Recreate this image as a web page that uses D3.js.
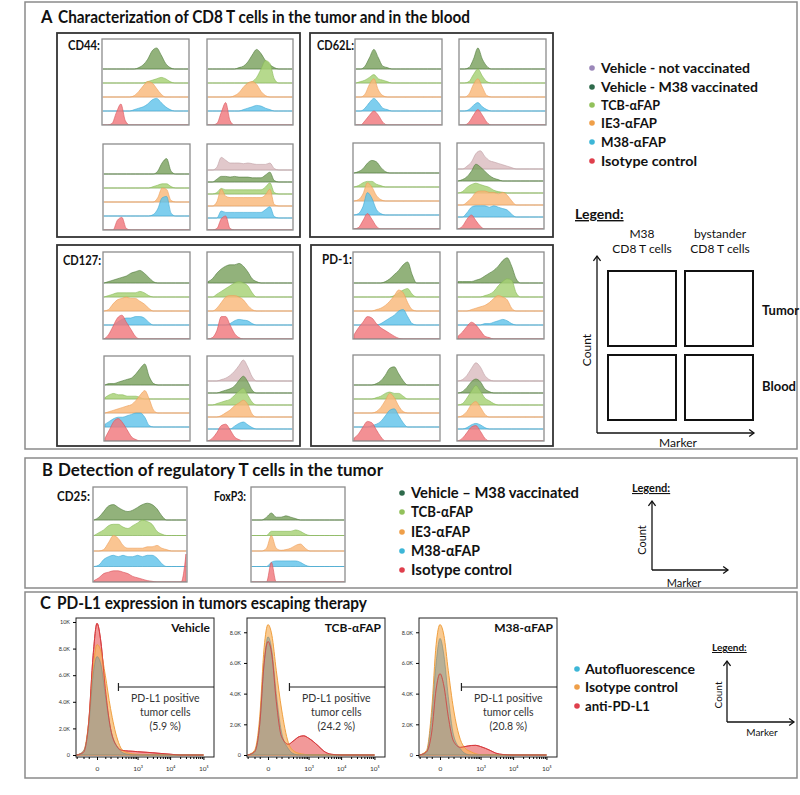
<!DOCTYPE html>
<html>
<head>
<meta charset="utf-8">
<script src="https://cdn.jsdelivr.net/npm/d3@7"></script>
<style>
  body { margin: 0; background: #fff }
  svg { display: block }
  text { font-family: Lato, 'DejaVu Sans', sans-serif; fill: #111 }
</style>
</head>
<body>
<svg id="fig" width="800" height="795"></svg>
<script>
// groups (legend order) and colours
const groups = ['Vehicle - not vaccinated', 'Vehicle - M38 vaccinated', 'TCB-αFAP', 'IE3-αFAP', 'M38-αFAP', 'Isotype control']
const groupsB = ['Vehicle – M38 vaccinated', 'TCB-αFAP', 'IE3-αFAP', 'M38-αFAP', 'Isotype control']
const markersA = ['CD44:', 'CD62L:', 'CD127:', 'PD-1:']
const markersB = ['CD25:', 'FoxP3:']
const fills = ['#dbbcc0', '#7aa15e', '#a6d174', '#f9b87a', '#62c3ea', '#f0777c']
const strokes = ['#bd9ea3', '#4f7a3a', '#86b856', '#ec9e58', '#3ea9d4', '#d9545a']
const dots = ['#9b87b9', '#2e6a4b', '#92c15b', '#ef9f49', '#3db6d7', '#df3f4c']

// histogram rows (20 bins, marker intensity low -> high), one row per group
const cd44TumorM38 = [
  [0, 0, 0, 0, 0, 0, 0, 0, 1, 3, 7, 13, 15, 10, 4, 1, 0, 0, 0, 0],
  [0, 0, 0, 0, 0, 0, 0, 0, 0, 0, 1, 2, 3, 4, 3, 1, 0, 0, 0, 0],
  [0, 0, 0, 0, 0, 0, 0, 1, 4, 8, 11, 10, 6, 2, 0, 0, 0, 0, 0, 0],
  [0, 0, 0, 0, 0, 0, 0, 1, 2, 3, 5, 8, 9, 6, 3, 1, 0, 0, 0, 0],
  [0, 0, 1, 9, 15, 3, 0, 0, 0, 0, 0, 0, 0, 0, 0, 0, 0, 0, 0, 0]
]
const cd44TumorBy = [
  [0, 0, 0, 0, 0, 0, 0, 1, 2, 5, 10, 14, 11, 6, 3, 1, 0, 0, 0, 0],
  [0, 0, 0, 0, 0, 0, 0, 0, 0, 0, 1, 4, 10, 16, 14, 3, 0, 0, 0, 0],
  [0, 0, 0, 0, 0, 0, 1, 3, 7, 10, 11, 9, 4, 1, 0, 0, 0, 0, 0, 0],
  [0, 0, 0, 0, 0, 0, 0, 0, 1, 2, 3, 4, 3.5, 2, 1, 0, 0, 0, 0, 0],
  [0, 0, 1, 9, 16, 3, 0, 0, 0, 0, 0, 0, 0, 0, 0, 0, 0, 0, 0, 0]
]
const cd44BloodM38 = [
  [0, 0, 0, 0, 0, 0, 0, 0, 0, 0, 0, 0, 2, 8, 11, 2, 0, 0, 0, 0],
  [0, 0, 0, 0, 0, 0, 0, 0, 0, 0, 0, 1, 2, 3, 3, 1, 0, 0, 0, 0],
  [0, 0, 0, 0, 0, 0, 0, 0, 0, 0, 0, 0, 3, 10, 9, 1, 0, 0, 0, 0],
  [0, 0, 0, 0, 0, 0, 0, 0, 0, 0, 0, 1, 5, 13, 14, 2, 0, 0, 0, 0],
  [0, 0, 0, 7, 9, 1, 0, 0, 0, 0, 0, 0, 0, 0, 0, 0, 0, 0, 0, 0]
]
const cd44BloodBy = [
  [0, 0, 2, 9, 7, 5, 5, 5, 4.5, 5, 4.5, 4, 4, 4, 5, 1, 0, 0, 0, 0],
  [0, 0, 2, 4, 4, 3.5, 4, 3.5, 3.5, 3.5, 3, 3, 3, 5, 7, 1, 0, 0, 0, 0],
  [0, 0, 1, 4, 3, 3, 3, 3, 3, 3, 3, 3, 3, 5, 8, 1, 0, 0, 0, 0],
  [0, 0, 3, 12, 7, 6, 6, 6, 6, 6, 6, 6, 6, 8, 12, 1, 0, 0, 0, 0],
  [0, 0, 0, 5, 4, 4, 4, 4, 4, 4, 4, 4, 4, 6, 8, 1, 0, 0, 0, 0],
  [0, 0, 1, 8, 10, 1, 0, 0, 0, 0, 0, 0, 0, 0, 0, 0, 0, 0, 0, 0]
]
const cd62lTumorM38 = [
  [0, 0, 2, 8, 14, 8, 2, 1, 0, 0, 0, 0, 0, 0, 0, 0, 0, 0, 0, 0],
  [0, 1, 2, 4, 6, 3, 2, 1, 0, 0, 0, 0, 0, 0, 0, 0, 0, 0, 0, 0],
  [0, 0, 2, 9, 13, 5, 1, 0, 0, 0, 0, 0, 0, 0, 0, 0, 0, 0, 0, 0],
  [0, 0, 2, 6, 9, 6, 2, 1, 0, 0, 0, 0, 0, 0, 0, 0, 0, 0, 0, 0],
  [0, 0, 3, 7, 10, 7, 2, 0, 0, 0, 0, 0, 0, 0, 0, 0, 0, 0, 0, 0]
]
const cd62lTumorBy = [
  [0, 0, 1, 7, 15, 7, 2, 0, 0, 0, 0, 0, 0, 0, 0, 0, 0, 0, 0, 0],
  [0, 0, 1, 6, 10, 5, 1, 0, 0, 0, 0, 0, 0, 0, 0, 0, 0, 0, 0, 0],
  [0, 0, 2, 9, 13, 7, 1, 0, 0, 0, 0, 0, 0, 0, 0, 0, 0, 0, 0, 0],
  [0, 0, 1, 4, 6, 3, 1, 0, 0, 0, 0, 0, 0, 0, 0, 0, 0, 0, 0, 0],
  [0, 0, 2, 7, 11, 7, 2, 0, 0, 0, 0, 0, 0, 0, 0, 0, 0, 0, 0, 0]
]
const cd62lBloodM38 = [
  [0, 1, 3, 7, 9, 8, 4, 1, 0, 0, 0, 0, 0, 0, 0, 0, 0, 0, 0, 0],
  [0, 1, 3, 4, 4, 2, 1, 0, 0, 0, 0, 0, 0, 0, 0, 0, 0, 0, 0, 0],
  [0, 1, 5, 13, 10, 4, 1, 0, 0, 0, 0, 0, 0, 0, 0, 0, 0, 0, 0, 0],
  [0, 1, 6, 16, 12, 4, 1, 0, 0, 0, 0, 0, 0, 0, 0, 0, 0, 0, 0, 0],
  [0, 1, 6, 11, 7, 2, 0, 0, 0, 0, 0, 0, 0, 0, 0, 0, 0, 0, 0, 0]
]
const cd62lBloodBy = [
  [0, 0, 2, 5, 11, 13, 9, 6, 5, 4, 3, 2, 1, 0, 0, 0, 0, 0, 0, 0],
  [0, 1, 3, 7, 12, 10, 7, 4, 2, 1, 0, 0, 0, 0, 0, 0, 0, 0, 0, 0],
  [0, 1, 4, 6, 7, 6, 5, 4, 2, 1, 0.5, 0, 0, 0, 0, 0, 0, 0, 0, 0],
  [0, 0, 2, 5, 9, 10, 10, 9, 9, 8, 9, 7, 3, 0, 0, 0, 0, 0, 0, 0],
  [0, 0, 3, 7, 8, 8, 8, 7, 8, 7, 6, 5, 2, 0, 0, 0, 0, 0, 0, 0],
  [0, 2, 7, 10, 6, 2, 0, 0, 0, 0, 0, 0, 0, 0, 0, 0, 0, 0, 0, 0]
]
const cd127TumorM38 = [
  [0, 1, 2, 3, 4, 5, 7, 8, 9, 7, 4, 1, 0, 0, 0, 0, 0, 0, 0, 0],
  [0, 1, 2, 3, 3, 3, 3, 3, 4, 3, 1, 0, 0, 0, 0, 0, 0, 0, 0, 0],
  [0, 1, 5, 8, 9, 10, 9, 9, 7, 5, 2, 0, 0, 0, 0, 0, 0, 0, 0, 0],
  [0, 0, 0, 2, 4, 5, 5, 6, 6, 5, 2, 0, 0, 0, 0, 0, 0, 0, 0, 0],
  [0, 3, 9, 15, 17, 12, 7, 2, 0, 0, 0, 0, 0, 0, 0, 0, 0, 0, 0, 0]
]
const cd127TumorBy = [
  [1, 3, 7, 10, 12, 13, 13, 14, 12, 8, 3, 1, 0, 0, 0, 0, 0, 0, 0, 0],
  [0, 0, 2, 4, 6, 8, 10, 11, 10, 8, 3, 0, 0, 0, 0, 0, 0, 0, 0, 0],
  [0, 0, 2, 6, 10, 11, 11, 10, 8, 4, 1, 0, 0, 0, 0, 0, 0, 0, 0, 0],
  [0, 0, 0, 0, 0, 1, 3, 4, 3.5, 3, 1, 0, 0, 0, 0, 0, 0, 0, 0, 0],
  [0, 1, 6, 16, 16, 10, 4, 1, 0, 0, 0, 0, 0, 0, 0, 0, 0, 0, 0, 0]
]
const cd127BloodM38 = [
  [0, 1, 1, 2, 3, 4, 5, 8, 12, 15, 6, 1, 0, 0, 0, 0, 0, 0, 0, 0],
  [1, 3, 4, 3, 3, 2, 2, 2, 1, 0, 0, 0, 0, 0, 0, 0, 0, 0, 0, 0],
  [0, 1, 2, 3, 4, 5, 6, 9, 13, 16, 10, 2, 0, 0, 0, 0, 0, 0, 0, 0],
  [2, 4, 6, 7, 7, 8, 9, 10, 10, 7, 1, 0, 0, 0, 0, 0, 0, 0, 0, 0],
  [2, 8, 14, 16, 13, 8, 3, 1, 0, 0, 0, 0, 0, 0, 0, 0, 0, 0, 0, 0]
]
const cd127BloodBy = [
  [0, 0, 0, 1, 2, 4, 7, 11, 15, 10, 3, 0, 0, 0, 0, 0, 0, 0, 0, 0],
  [0, 0, 0, 1, 2, 3, 5, 9, 12, 8, 2, 0, 0, 0, 0, 0, 0, 0, 0, 0],
  [0, 0, 1, 2, 3, 4, 7, 10, 12, 7, 2, 0, 0, 0, 0, 0, 0, 0, 0, 0],
  [0, 0, 0, 1, 3, 5, 8, 10, 12, 9, 2, 0, 0, 0, 0, 0, 0, 0, 0, 0],
  [0, 0, 0, 0, 0, 0, 2, 4, 5, 3, 1, 0, 0, 0, 0, 0, 0, 0, 0, 0],
  [0, 2, 6, 11, 12, 8, 3, 1, 0, 0, 0, 0, 0, 0, 0, 0, 0, 0, 0, 0]
]
const pd1TumorM38 = [
  [0, 0, 0, 0, 0, 0, 0, 1, 3, 6, 9, 13, 15, 6, 0, 0, 0, 0, 0, 0],
  [0, 0, 0, 0, 0, 0, 0, 0, 0, 1, 3, 5, 6, 2, 0, 0, 0, 0, 0, 0],
  [0, 0, 0, 0, 0, 1, 2, 4, 7, 11, 15, 13, 6, 1, 0, 0, 0, 0, 0, 0],
  [0, 0, 0, 0, 0, 0, 1, 3, 5, 7, 10, 11, 6, 1, 0, 0, 0, 0, 0, 0],
  [3, 8, 12, 16, 15, 11, 8, 6, 4, 2, 0.5, 0, 0, 0, 0, 0, 0, 0, 0, 0]
]
const pd1TumorBy = [
  [1, 1, 1, 1, 2, 3, 5, 7, 9, 12, 16, 18, 12, 3, 0, 0, 0, 0, 0, 0],
  [0, 0, 0, 0, 0, 0, 1, 2, 4, 8, 11, 13, 12, 3, 0, 0, 0, 0, 0, 0],
  [0, 0, 0, 1, 2, 3, 4, 6, 9, 11, 10, 8, 2, 0, 0, 0, 0, 0, 0, 0],
  [0, 0, 0, 0, 0, 0, 1, 1, 2, 3, 4, 3, 1, 0, 0, 0, 0, 0, 0, 0],
  [2, 5, 9, 12, 10, 6, 2, 1, 0, 0, 0, 0, 0, 0, 0, 0, 0, 0, 0, 0]
]
const pd1BloodM38 = [
  [0, 0, 0, 0, 0, 1, 3, 7, 12, 13, 8, 3, 0, 0, 0, 0, 0, 0, 0, 0],
  [0, 0, 0, 0, 0, 1, 2, 4, 5, 4, 4, 2, 0, 0, 0, 0, 0, 0, 0, 0],
  [0, 0, 0, 0, 0, 1, 4, 9, 14, 11, 5, 1, 0, 0, 0, 0, 0, 0, 0, 0],
  [0, 0, 0, 0, 1, 2, 4, 8, 12, 13, 8, 3, 0, 0, 0, 0, 0, 0, 0, 0],
  [2, 5, 10, 14, 13, 8, 3, 0, 0, 0, 0, 0, 0, 0, 0, 0, 0, 0, 0, 0]
]
const pd1BloodBy = [
  [0, 1, 4, 9, 13, 10, 4, 1, 0, 0, 0, 0, 0, 0, 0, 0, 0, 0, 0, 0],
  [0, 1, 4, 8, 10, 8, 3, 1, 0, 0, 0, 0, 0, 0, 0, 0, 0, 0, 0, 0],
  [0, 1, 5, 10, 14, 10, 5, 3, 1, 0, 0, 0, 0, 0, 0, 0, 0, 0, 0, 0],
  [0, 1, 4, 9, 11, 7, 2, 0, 0, 0, 0, 0, 0, 0, 0, 0, 0, 0, 0, 0],
  [0, 0, 1, 3, 4, 3, 1, 0, 0, 0, 0, 0, 0, 0, 0, 0, 0, 0, 0, 0],
  [0, 2, 6, 10, 11, 7, 2, 0, 0, 0, 0, 0, 0, 0, 0, 0, 0, 0, 0, 0]
]
// panel B (tumor Treg markers)
const cd25Tumor = [
  [0, 2, 6, 10, 11, 9, 7, 6, 7, 9, 11, 12, 11, 8, 3, 0, 0, 0, 0, 0],
  [0, 2, 4, 7, 8, 8, 6, 5, 7, 9, 11, 10, 8, 3, 1, 0, 0, 0, 0, 0],
  [0, 0, 1, 6, 11, 9, 4, 2, 2, 2, 2, 3, 3, 4, 2, 1, 0, 0, 0, 0],
  [0, 1, 5, 7, 8, 7, 8, 7, 7, 8, 7, 8, 8, 6, 2, 0, 0, 0, 0, 0],
  [1, 3, 6, 7, 8, 8, 7, 6, 4, 3, 2, 1, 0.5, 0, 0, 0, 0, 0, 0, 20]
]
const foxp3Tumor = [
  [0, 0, 0, 2, 5, 2, 2, 3, 2, 1, 0, 0, 0, 0, 0, 0, 0, 0, 0, 0],
  [0, 0, 0, 0, 3, 3, 3, 3, 3, 4, 3, 1, 0, 0, 0, 0, 0, 0, 0, 0],
  [0, 0, 0, 2, 11, 2, 0.5, 1, 2, 4, 5, 2, 0, 0, 0, 0, 0, 0, 0, 0],
  [0, 0, 0, 0, 3, 4, 4, 4, 4, 4, 3, 1, 0, 0, 0, 0, 0, 0, 0, 0],
  [0, 0, 0, 0, 14, 0, 0, 0, 0, 0, 0, 0, 0, 0, 0, 0, 0, 0, 0, 0]
]

// panel C: PD-L1 histograms (counts at fluorescence values)
const seriesC = ['Autofluorescence', 'Isotype control', 'anti-PD-L1']
const treatmentsC = ['Vehicle', 'TCB-αFAP', 'M38-αFAP']
const positivePct = ['(5.9 %)', '(24.2 %)', '(20.8 %)']
const cX = [-200, -100, -50, -20, 0, 20, 50, 100, 200, 300, 500, 700, 1000, 2000, 3000, 5000, 10000, 20000, 100000]
const vehAuto = [0, 300, 2200, 6000, 7400, 6800, 4500, 2000, 600, 200, 50, 0, 0, 0, 0, 0, 0, 0, 0]
const vehIso = [0, 300, 2500, 6500, 8300, 7800, 6000, 3500, 1200, 400, 150, 80, 50, 0, 0, 0, 0, 0, 0]
const vehPdl1 = [0, 200, 2500, 7500, 9900, 8500, 5000, 2000, 600, 350, 300, 280, 250, 200, 170, 120, 60, 0, 0]
const tcbAuto = [0, 200, 2000, 6000, 7700, 6800, 4000, 1500, 400, 100, 0, 0, 0, 0, 0, 0, 0, 0, 0]
const tcbIso = [0, 300, 2500, 7000, 8500, 7800, 5500, 3000, 800, 300, 100, 50, 0, 0, 0, 0, 0, 0, 0]
const tcbPdl1 = [0, 200, 2000, 6000, 7400, 6500, 3500, 1200, 700, 900, 1200, 1250, 1100, 600, 250, 50, 0, 0, 0]
const m38Auto = [0, 200, 2500, 6000, 7600, 6500, 3800, 1300, 400, 100, 0, 0, 0, 0, 0, 0, 0, 0, 0]
const m38Iso = [0, 300, 3000, 7200, 8500, 7800, 5500, 3000, 1000, 450, 200, 80, 20, 0, 0, 0, 0, 0, 0]
const m38Pdl1 = [0, 200, 1500, 4300, 5300, 4500, 2500, 900, 500, 550, 620, 630, 550, 300, 120, 30, 0, 0, 0]
const yMaxC = [10300, 8930, 8930]
const yTicksC = [[0, 2000, 4000, 6000, 8000, 10000], [0, 2000, 4000, 6000, 8000], [0, 2000, 4000, 6000, 8000]]
const xMajorC = [0, 1000, 10000, 100000]
const xMinorC = [-200, -100, -50, 50, 100, 200, 300, 400, 500, 600, 700, 800, 900, 2000, 3000, 4000, 5000, 6000, 7000, 8000, 9000, 20000, 30000, 40000, 50000, 60000, 70000, 80000, 90000]
const gateStart = 220
const cFill = ['#8c9f9a', '#f6b462', '#ee7777']
const cStroke = ['#7d8d80', '#f0a040', '#d6393c']
const cDot = ['#3db6d7', '#ef9f49', '#df3f4c']

const svg = d3.select('#fig')

function txt(g, x, y, s, size, opts = {}) {
  const t = g.append('text').attr('x', x).attr('y', y).text(s)
    .style('font-size', `${size}px`)
    .style('font-weight', opts.bold ? 700 : 400)
    .attr('text-anchor', opts.anchor || 'start')
  if (opts.width) t.attr('textLength', opts.width).attr('lengthAdjust', 'spacingAndGlyphs')
  if (opts.underline) t.style('text-decoration', 'underline')
  if (opts.fill) t.style('fill', opts.fill)
  return t
}

let clipN = 0
// stacked histogram box: rows drawn top to bottom, last row sits on the box floor
function histBox(g, box, rows, groupIdx, step) {
  const [bx, by, bw, bh] = box
  const n = rows.length
  const x = d3.scaleLinear().domain([0, rows[0].length - 1]).range([bx + 1, bx + bw - 1])
  const h = d3.scaleLinear().domain([0, 10]).range([0, 14])
  const id = `clip${clipN++}`
  g.append('clipPath').attr('id', id).append('rect').attr('x', bx).attr('y', by).attr('width', bw).attr('height', bh)
  const inner = g.append('g').attr('clip-path', `url(#${id})`)
  const base = i => by + bh - (n - 1 - i) * step
  rows.forEach((r, i) => {
    inner.append('line').attr('x1', bx).attr('x2', bx + bw).attr('y1', base(i)).attr('y2', base(i))
      .attr('stroke', '#d6d6d6').attr('stroke-width', 1)
  })
  rows.forEach((r, i) => {
    const area = d3.area()
      .x((d, j) => x(j))
      .y0(base(i))
      .y1(d => base(i) - h(d))
      .curve(d3.curveMonotoneX)
    inner.append('path').datum(r).attr('d', area)
      .attr('fill', fills[groupIdx[i]]).attr('fill-opacity', 0.82)
      .attr('stroke', strokes[groupIdx[i]]).attr('stroke-width', 0.6)
  })
  g.append('rect').attr('x', bx).attr('y', by).attr('width', bw).attr('height', bh)
    .attr('fill', 'none').attr('stroke', '#8c8c8c').attr('stroke-width', 1.3)
}

function arrow(g, x1, y1, x2, y2) {
  g.append('line').attr('x1', x1).attr('y1', y1).attr('x2', x2).attr('y2', y2)
    .attr('stroke', '#111').attr('stroke-width', 1.3)
  const a = Math.atan2(y2 - y1, x2 - x1)
  const p = [a + 2.5, a - 2.5].map(t => [x2 + 6 * Math.cos(t), y2 + 6 * Math.sin(t)])
  g.append('path').attr('d', `M${p[0]}L${x2},${y2}L${p[1]}`).attr('fill', 'none')
    .attr('stroke', '#111').attr('stroke-width', 1.3)
}

// panel frames
const frames = [[25, 2, 772, 447], [25, 458, 772, 130], [25, 592, 772, 186]]
frames.forEach(f => svg.append('rect').attr('x', f[0]).attr('y', f[1]).attr('width', f[2]).attr('height', f[3])
  .attr('fill', 'none').attr('stroke', '#8a8a8a').attr('stroke-width', 1.5))

// ---------- panel A ----------
const gA = svg.append('g')
txt(gA, 41, 23, 'A', 16.5, { bold: true })
txt(gA, 58, 23, 'Characterization of CD8 T cells in the tumor and in the blood', 16.5, { bold: true, width: 412 })

const five = [1, 2, 3, 4, 5]
const six = [0, 1, 2, 3, 4, 5]
const blocksA = [
  { frame: [57, 33, 243, 204], lab: [68, 50, 32], boxes: [[102, 39, 87, 86], [207, 39, 86, 86], [103, 144, 87, 86], [207, 144, 86, 86]], data: [cd44TumorM38, cd44TumorBy, cd44BloodM38, cd44BloodBy] },
  { frame: [310, 33, 243, 204], lab: [317, 50, 37], boxes: [[355, 39, 87, 86], [459, 39, 87, 86], [353, 143, 87, 86], [457, 143, 87, 86]], data: [cd62lTumorM38, cd62lTumorBy, cd62lBloodM38, cd62lBloodBy] },
  { frame: [57, 245, 243, 201], lab: [63, 265, 38], boxes: [[103, 252, 87, 87], [207, 252, 86, 87], [104, 356, 86, 85], [207, 356, 86, 85]], data: [cd127TumorM38, cd127TumorBy, cd127BloodM38, cd127BloodBy] },
  { frame: [311, 245, 242, 201], lab: [322, 264, 30], boxes: [[353, 252, 87, 87], [457, 252, 87, 87], [353, 355, 87, 86], [457, 355, 87, 86]], data: [pd1TumorM38, pd1TumorBy, pd1BloodM38, pd1BloodBy] }
]
blocksA.forEach((b, k) => {
  gA.append('rect').attr('x', b.frame[0]).attr('y', b.frame[1]).attr('width', b.frame[2]).attr('height', b.frame[3])
    .attr('fill', 'none').attr('stroke', '#333').attr('stroke-width', 1.8)
  txt(gA, b.lab[0], b.lab[1], markersA[k], 12.5, { bold: true, width: b.lab[2] })
  b.boxes.forEach((box, j) => {
    const rows = b.data[j]
    histBox(gA, box, rows, rows.length === 6 ? six : five, rows.length === 6 ? 12 : 14)
  })
})

// legend A
const legA = [68, 87, 105, 123, 142, 161]
const legAW = [149, 157, 59, 56, 65, 96]
groups.forEach((s, i) => {
  gA.append('circle').attr('cx', 592).attr('cy', legA[i]).attr('r', 2.8).attr('fill', dots[i])
  txt(gA, 601, legA[i] + 5, s, 14, { bold: true, width: legAW[i] })
})
txt(gA, 575, 219, 'Legend:', 14, { bold: true, underline: true })
txt(gA, 642, 238, 'M38', 12, { anchor: 'middle' })
txt(gA, 642, 253, 'CD8 T cells', 12, { anchor: 'middle' })
txt(gA, 720, 238, 'bystander', 12, { anchor: 'middle' })
txt(gA, 720, 253, 'CD8 T cells', 12, { anchor: 'middle' })
const schemeA = [[608, 271, 68, 75], [685, 271, 68, 75], [608, 355, 68, 65], [685, 355, 68, 65]]
schemeA.forEach(r => gA.append('rect').attr('x', r[0]).attr('y', r[1]).attr('width', r[2]).attr('height', r[3])
  .attr('fill', 'none').attr('stroke', '#111').attr('stroke-width', 2))
arrow(gA, 597, 433, 597, 256)
arrow(gA, 597, 433, 754, 433)
txt(gA, 0, 0, 'Count', 12, { anchor: 'middle' }).attr('transform', 'translate(591,350) rotate(-90)')
txt(gA, 678, 447, 'Marker', 12, { anchor: 'middle' })
txt(gA, 762, 315, 'Tumor', 13, { bold: true })
txt(gA, 762, 391, 'Blood', 13, { bold: true })

// ---------- panel B ----------
const gB = svg.append('g')
txt(gB, 42, 476, 'B', 16.5, { bold: true })
txt(gB, 58, 476, 'Detection of regulatory T cells in the tumor', 16.5, { bold: true, width: 325 })
txt(gB, 57, 501, markersB[0], 12.5, { bold: true, width: 33 })
txt(gB, 214, 501, markersB[1], 12.5, { bold: true, width: 32 })
histBox(gB, [93, 487, 94, 95], cd25Tumor, five, 15.5)
histBox(gB, [251, 487, 94, 95], foxp3Tumor, five, 15.5)
const legB = [493, 512, 532, 551, 570]
const legBW = [168, 62, 59, 69, 101]
groupsB.forEach((s, i) => {
  gB.append('circle').attr('cx', 402).attr('cy', legB[i]).attr('r', 2.8).attr('fill', dots[i + 1])
  txt(gB, 411, legB[i] + 5, s, 14.5, { bold: true, width: legBW[i] })
})
txt(gB, 632, 492, 'Legend:', 11, { bold: true, underline: true })
arrow(gB, 652, 570, 652, 501)
arrow(gB, 652, 570, 728, 570)
txt(gB, 0, 0, 'Count', 11, { anchor: 'middle' }).attr('transform', 'translate(646,540) rotate(-90)')
txt(gB, 684, 587, 'Marker', 11, { anchor: 'middle' })

// ---------- panel C ----------
const gC = svg.append('g')
txt(gC, 40, 609, 'C', 16.5, { bold: true })
txt(gC, 57, 609, 'PD-L1 expression in tumors escaping therapy', 16.5, { bold: true, width: 310 })
const plotX = [76, 247, 419]
const dataC = [[vehAuto, vehIso, vehPdl1], [tcbAuto, tcbIso, tcbPdl1], [m38Auto, m38Iso, m38Pdl1]]
const drawOrder = [2, 1, 0]
const fmtK = v => v === 0 ? '0' : v >= 10000 ? `${v / 1000}K` : `${(v / 1000).toFixed(1)}K`
const sup = { 0: '0', 1000: '10³', 10000: '10⁴', 100000: '10⁵' }
treatmentsC.forEach((name, k) => {
  const x0 = plotX[k]
  const w = 138
  const top = 618
  const bottom = 757
  const x = d3.scaleSymlog().constant(65).domain([-212, 207700]).range([x0, x0 + w])
  const y = d3.scaleLinear().domain([0, yMaxC[k]]).range([755, top])
  const id = `clipC${k}`
  gC.append('clipPath').attr('id', id).append('rect').attr('x', x0).attr('y', top).attr('width', w).attr('height', bottom - top)
  const inner = gC.append('g').attr('clip-path', `url(#${id})`)
  drawOrder.forEach(s => {
    const area = d3.area().x((d, j) => x(cX[j])).y0(y(0)).y1(d => y(d)).curve(d3.curveMonotoneX)
    inner.append('path').datum(dataC[k][s]).attr('d', area)
      .attr('fill', cFill[s]).attr('fill-opacity', s === 0 ? 0.6 : s === 1 ? 0.7 : 0.75)
      .attr('stroke', cStroke[s]).attr('stroke-width', s === 0 ? 0.6 : 1)
  })
  // red outline stays visible on top
  inner.append('path').datum(dataC[k][2])
    .attr('d', d3.line().x((d, j) => x(cX[j])).y(d => y(d)).curve(d3.curveMonotoneX))
    .attr('fill', 'none').attr('stroke', '#d6393c').attr('stroke-width', 0.9).attr('stroke-opacity', 0.8)
  gC.append('rect').attr('x', x0).attr('y', top).attr('width', w).attr('height', bottom - top)
    .attr('fill', 'none').attr('stroke', '#222').attr('stroke-width', 1)
  // axes
  const ya = gC.append('g').attr('transform', `translate(${x0},0)`)
    .call(d3.axisLeft(y).tickValues(yTicksC[k]).tickFormat(fmtK).tickSize(3).tickPadding(3))
  ya.select('.domain').remove()
  ya.selectAll('text').style('font-size', '5.5px').style('fill', '#333')
  const xa = gC.append('g').attr('transform', `translate(0,${bottom})`)
    .call(d3.axisBottom(x).tickValues(xMajorC).tickFormat(v => sup[v]).tickSize(3).tickPadding(6))
  xa.select('.domain').remove()
  xa.selectAll('text').style('font-size', '6.5px').style('fill', '#333')
  gC.append('g').attr('transform', `translate(0,${bottom})`)
    .call(d3.axisBottom(x).tickValues(xMinorC).tickFormat('').tickSize(2))
    .select('.domain').remove()
  // gate
  gC.append('line').attr('x1', x(gateStart)).attr('x2', x0 + w).attr('y1', 687).attr('y2', 687)
    .attr('stroke', '#222').attr('stroke-width', 1.2)
  gC.append('line').attr('x1', x(gateStart)).attr('x2', x(gateStart)).attr('y1', 683).attr('y2', 691)
    .attr('stroke', '#222').attr('stroke-width', 1.2)
  const tx = x(gateStart) + (x0 + w - x(gateStart)) / 2 - 1
  txt(gC, tx, 702, 'PD-L1 positive', 10.5, { anchor: 'middle', fill: '#333' })
  txt(gC, tx, 716, 'tumor cells', 10.5, { anchor: 'middle', fill: '#333' })
  txt(gC, tx, 730, positivePct[k], 10.5, { anchor: 'middle', fill: '#333' })
  txt(gC, x0 + w - 4, 632, name, 12, { bold: true, anchor: 'end' })
})
const legC = [669, 687, 706]
const legCW = [110, 93, 65]
seriesC.forEach((s, i) => {
  gC.append('circle').attr('cx', 577).attr('cy', legC[i]).attr('r', 2.8).attr('fill', cDot[i])
  txt(gC, 585, legC[i] + 5, s, 14, { bold: true, width: legCW[i] })
})
txt(gC, 712, 651, 'Legend:', 10, { bold: true, underline: true })
arrow(gC, 727, 722, 727, 661)
arrow(gC, 727, 722, 794, 722)
txt(gC, 0, 0, 'Count', 10, { anchor: 'middle' }).attr('transform', 'translate(722,695) rotate(-90)')
txt(gC, 762, 736, 'Marker', 10, { anchor: 'middle' })
</script>
</body>
</html>
